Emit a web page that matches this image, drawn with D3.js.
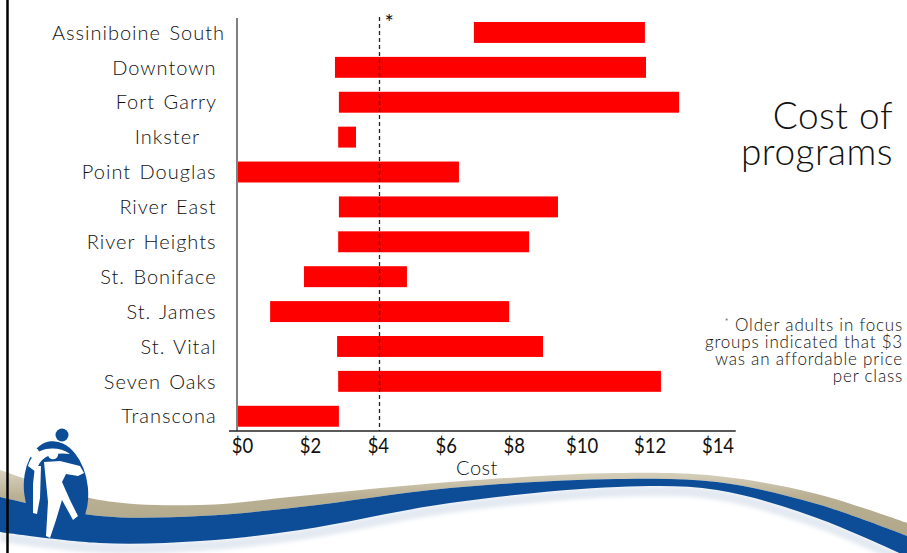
<!DOCTYPE html>
<html>
<head>
<meta charset="utf-8">
<script src="https://cdn.jsdelivr.net/npm/d3@7"></script>
<style>
  html, body { margin: 0; padding: 0; background: #fff; }
  svg { display: block; }
  text { font-family: Lato, "Noto Sans", sans-serif; fill: #111; }
</style>
</head>
<body>
<svg id="chart" width="907" height="553"></svg>
<script>
// Programme cost ranges by community area (dollars per class)
const areas = ["Assiniboine South", "Downtown ", "Fort Garry ", "Inkster   ", "Point Douglas ",
               "River East ", "River Heights ", "St. Boniface ", "St. James ", "St. Vital ",
               "Seven Oaks ", "Transcona "];
const costLow  = [6.65, 2.75, 2.86, 2.84, 0.00, 2.86, 2.84, 1.88, 0.93, 2.81, 2.84, 0.00];
const costHigh = [11.45, 11.48, 12.41, 3.34, 6.23, 9.01, 8.20, 4.77, 7.64, 8.59, 11.90, 2.86];
const tickValues = [0, 2, 4, 6, 8, 10, 12, 14];
const tickLabels = ["$0", "$2", "$4", "$6", "$8", "$10", "$12", "$14"];
const referencePrice = 4;
const footnoteLines = ["Older adults in focus", "groups indicated that $3", "was an affordable price", "per class"];

const svg = d3.select("#chart");

// ---- background swoosh along the bottom ----
const defs = svg.append("defs");
const tanGrad = defs.append("linearGradient").attr("id", "tanGrad")
  .attr("x1", 0).attr("y1", 0).attr("x2", 0).attr("y2", 1);
tanGrad.append("stop").attr("offset", "0%").attr("stop-color", "#d9d3c0");
tanGrad.append("stop").attr("offset", "40%").attr("stop-color", "#b9af93");
tanGrad.append("stop").attr("offset", "100%").attr("stop-color", "#b0a688");
defs.append("filter").attr("id", "soft").append("feGaussianBlur").attr("stdDeviation", 0.7);
defs.append("filter").attr("id", "haze").append("feGaussianBlur").attr("stdDeviation", 2);

const curve = d3.line().curve(d3.curveCatmullRom.alpha(0.5));
const tanTop  = [[0,470],[100,500],[200,505],[300,496],[450,482],[617,473],[717,476],[817,494],[910,524]];
const blueTop = [[0,497],[100,516],[200,516],[300,507],[450,488],[617,479],[717,482],[817,504],[910,537]];
const blueBot = [[0,532],[100,543],[200,541],[300,530],[450,503],[617,487],[717,490],[817,518],[910,558]];
const band = (top, bot) => curve(top) + "L" + curve(bot.slice().reverse()).slice(1) + "Z";

// pale haze under the blue band
svg.append("path").attr("d", band(blueBot, blueBot.map(([x, y]) => [x, y + 10])))
  .attr("fill", "#e3e9f1").attr("filter", "url(#haze)");
svg.append("path").attr("d", band(tanTop, blueTop)).attr("fill", "url(#tanGrad)").attr("filter", "url(#soft)");
svg.append("path").attr("d", band(blueTop, blueBot)).attr("fill", "#0c4d97").attr("filter", "url(#soft)");

// ---- organisation logo, bottom left ----
const logo = svg.append("g").attr("filter", "url(#soft)");
logo.append("ellipse").attr("cx", 56).attr("cy", 490).attr("rx", 32).attr("ry", 49)
  .attr("transform", "rotate(-6,56,490)").attr("fill", "#0c4d97");
logo.append("circle").attr("cx", 62).attr("cy", 435).attr("r", 6.5).attr("fill", "#0c4d97");
// white opening beneath the upper arc
logo.append("path").attr("d", "M28,466 Q32,452 46,449 Q60,447 70,454 Q56,452 46,457 Q38,462 36,472 Z")
  .attr("fill", "#fff");
logo.append("circle").attr("cx", 34).attr("cy", 453).attr("r", 5.2).attr("fill", "#fff");
logo.append("circle").attr("cx", 53).attr("cy", 454).attr("r", 5.2).attr("fill", "#fff");
// standing figure with outstretched arm
logo.append("path").attr("d", "M44,462 L60,461 L80,466 L84,473 L78,476 L66,474 L62,482 L70,500 L78,516 L73,520 L62,500 L56,520 L50,538 L46,536 L48,502 L46,482 Z")
  .attr("fill", "#fff");
// smaller figure on the left
logo.append("path").attr("d", "M35,466 L41,466 L40,498 L37,514 L33,513 L33,484 Z").attr("fill", "#fff");

// left frame edge
svg.append("line").attr("x1", 7.5).attr("x2", 7.5).attr("y1", 0).attr("y2", 553)
  .attr("stroke", "#000").attr("stroke-width", 2.5);

// ---- chart ----
const x = d3.scaleLinear().domain([0, 14]).range([237, 735.75]);
// tick labels are spread slightly narrower than the tick positions
const xLabel = d3.scaleLinear().domain([0, 14]).range([242, 717.5]);
const y = d3.scaleBand().domain(areas).range([15, 433.7]).paddingInner(0.4).paddingOuter(0.2);
const axisY = 431;

svg.append("g").selectAll("rect").data(areas).join("rect")
  .attr("x", (d, i) => x(costLow[i]))
  .attr("width", (d, i) => x(costHigh[i]) - x(costLow[i]))
  .attr("y", d => y(d))
  .attr("height", y.bandwidth())
  .attr("fill", "#ff0000");

// reference price marker
svg.append("line")
  .attr("x1", x(referencePrice)).attr("x2", x(referencePrice))
  .attr("y1", 17).attr("y2", axisY)
  .attr("stroke", "#222").attr("stroke-width", 1.3).attr("stroke-dasharray", "4,3");
svg.append("text").attr("x", x(referencePrice) + 5).attr("y", 30)
  .attr("font-size", 22).text("*");

// category axis
svg.append("line").attr("x1", x(0)).attr("x2", x(0)).attr("y1", 18).attr("y2", axisY)
  .attr("stroke", "#808080").attr("stroke-width", 2);
svg.append("g").selectAll("text").data(areas).join("text")
  .attr("x", 225)
  .attr("y", d => y(d) + y.bandwidth() / 2)
  .attr("dy", "0.36em")
  .attr("text-anchor", "end")
  .attr("font-size", 20)
  .attr("font-weight", 300)
  .attr("fill", "#000")
  .style("white-space", "pre")
  .style("letter-spacing", "1px")
  .style("word-spacing", "2px")
  .text(d => d);

// cost axis
const xAxis = d3.axisBottom(x).tickValues(tickValues)
  .tickFormat((d, i) => tickLabels[i]).tickSize(0).tickPadding(6);
const gx = svg.append("g").attr("transform", `translate(0,${axisY})`).call(xAxis);
gx.select(".domain").remove();
gx.selectAll(".tick text")
  .attr("font-size", 22)
  .attr("font-family", "Lato, sans-serif")
  .attr("font-weight", 400)
  .attr("fill", "#222")
  .attr("transform", d => `translate(${xLabel(d) - x(d)},0) scale(0.84,1)`);
svg.append("line").attr("x1", x(0) - 8).attr("x2", x(14)).attr("y1", axisY).attr("y2", axisY)
  .attr("stroke", "#222").attr("stroke-width", 1.5);
svg.append("text").attr("x", 477).attr("y", 475).attr("text-anchor", "middle")
  .attr("font-size", 20).attr("font-weight", 300).attr("fill", "#000")
  .style("letter-spacing", "0.5px").text("Cost");

// title
const title = svg.append("text").attr("text-anchor", "end").attr("font-size", 37)
  .attr("font-weight", 300).attr("fill", "#000").style("letter-spacing", "0.5px");
title.append("tspan").attr("x", 893).attr("y", 129).text("Cost of");
title.append("tspan").attr("x", 893).attr("y", 165).text("programs");

// footnote
const note = svg.append("text").attr("text-anchor", "end").attr("font-size", 17)
  .attr("font-weight", 300).attr("fill", "#000").style("letter-spacing", "0.8px");
footnoteLines.forEach((line, i) => {
  const t = note.append("tspan").attr("x", 903).attr("y", 331 + i * 17);
  if (i === 0) {
    t.append("tspan").attr("font-size", 10).attr("dy", -6).text("*");
    t.append("tspan").attr("dy", 6).text(" " + line);
  } else {
    t.text(line);
  }
});
</script>
</body>
</html>
